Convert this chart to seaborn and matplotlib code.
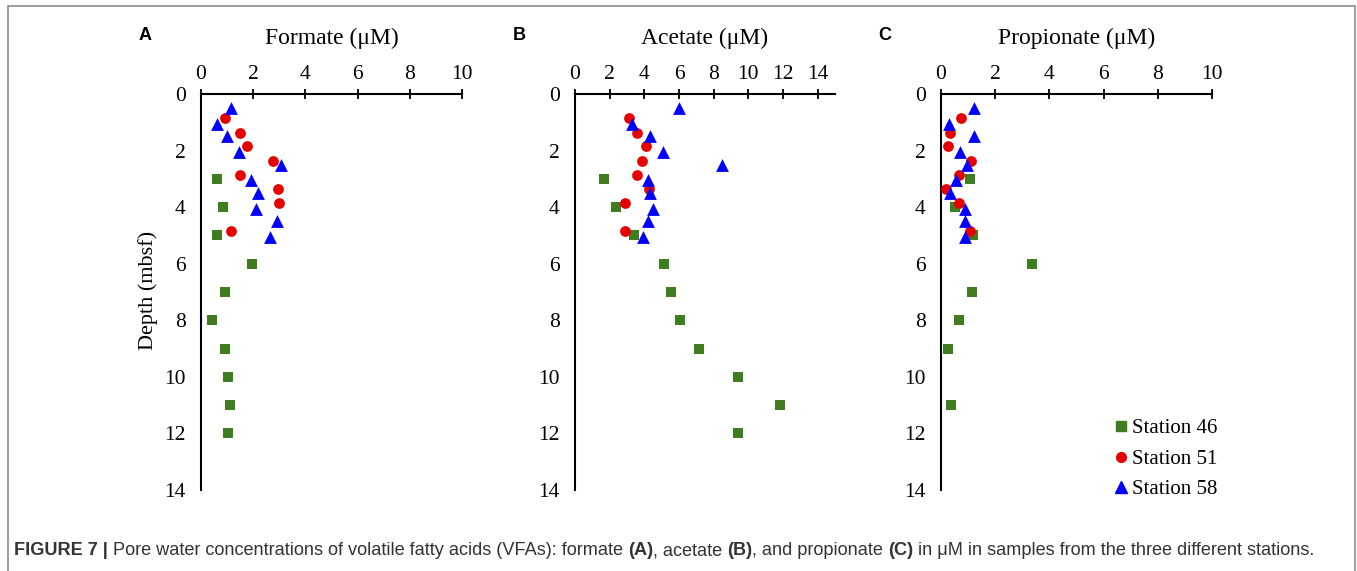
import numpy as np
import pandas as pd
import matplotlib
matplotlib.use("Agg")
import matplotlib.pyplot as plt
from matplotlib.patches import Rectangle
from matplotlib.lines import Line2D
import matplotlib.transforms as mtransforms
import seaborn as sns

# Depths (mbsf) per station
depth_46 = [3, 4, 5, 6, 7, 8, 9, 10, 11, 12]
depth_46_prop = [3, 4, 5, 6, 7, 8, 9, 11]
depth_51 = [0.85, 1.38, 1.85, 2.38, 2.85, 3.37, 3.85, 4.85]
depth_58 = [0.5, 1.05, 1.5, 2.05, 2.5, 3.05, 3.5, 4.05, 4.5, 5.05]

# Concentrations (uM)
formate_46 = [0.6, 0.85, 0.6, 1.94, 0.93, 0.42, 0.93, 1.02, 1.1, 1.02]
formate_51 = [0.93, 1.5, 1.75, 2.75, 1.5, 2.95, 3.0, 1.15]
formate_58 = [1.15, 0.6, 1.0, 1.47, 3.05, 1.9, 2.2, 2.1, 2.9, 2.65]

acetate_46 = [1.65, 2.35, 3.4, 5.14, 5.53, 6.03, 7.17, 9.42, 11.81, 9.42]
acetate_51 = [3.1, 3.6, 4.1, 3.85, 3.6, 4.25, 2.9, 2.9]
acetate_58 = [6.0, 3.3, 4.35, 5.1, 8.5, 4.2, 4.35, 4.5, 4.2, 3.95]

propionate_46 = [1.07, 0.52, 1.17, 3.34, 1.16, 0.68, 0.27, 0.36]
propionate_51 = [0.75, 0.35, 0.27, 1.1, 0.68, 0.18, 0.68, 1.07]
propionate_58 = [1.2, 0.3, 1.2, 0.7, 0.95, 0.55, 0.35, 0.9, 0.9, 0.9]

stations = ["Station 46", "Station 51", "Station 58"]
colors = {"Station 46": "#3f7d20", "Station 51": "#e60000", "Station 58": "#0000ff"}
markers = {"Station 46": "s", "Station 51": "o", "Station 58": "^"}
sizes = {"Station 46": 55, "Station 51": 60, "Station 58": 85}


def make_frame(d46, v46, d51, v51, d58, v58):
    parts = []
    for name, d, v in zip(stations, [d46, d51, d58], [v46, v51, v58]):
        parts.append(pd.DataFrame({"station": name, "depth": d, "conc": v}))
    return pd.concat(parts, ignore_index=True)


panels = [
    ("A", "Formate (\u03bcM)", make_frame(depth_46, formate_46, depth_51, formate_51, depth_58, formate_58),
     10, np.arange(0, 11, 2), 201, 261),
    ("B", "Acetate (\u03bcM)", make_frame(depth_46, acetate_46, depth_51, acetate_51, depth_58, acetate_58),
     15, np.arange(0, 15, 2), 575, 260),
    ("C", "Propionate (\u03bcM)", make_frame(depth_46_prop, propionate_46, depth_51, propionate_51, depth_58, propionate_58),
     10, np.arange(0, 11, 2), 941, 271),
]

sns.set_style("white")
plt.rcParams["font.family"] = ["Liberation Serif", "DejaVu Serif"]
plt.rcParams["text.color"] = "black"
plt.rcParams["xtick.color"] = "black"
plt.rcParams["ytick.color"] = "black"

W, H = 1357, 571
fig = plt.figure(figsize=(W / 100, H / 100), dpi=100)

top_px, bot_px = 94, 490
for letter, title, df, xmax, xticks, left_px, width_px in panels:
    ax = fig.add_axes([left_px / W, 1 - bot_px / H, width_px / W, (bot_px - top_px) / H])
    for st in stations:
        sub = df[df["station"] == st]
        sns.scatterplot(data=sub, x="conc", y="depth", color=colors[st], marker=markers[st],
                        s=sizes[st], linewidth=0, ax=ax, legend=False, zorder=3)
    ax.set_xlim(0, xmax)
    ax.set_ylim(14, 0)
    ax.set_xticks(xticks)
    ax.set_yticks(np.arange(0, 15, 2))
    ax.xaxis.tick_top()
    ax.set_xlabel("")
    ax.set_ylabel("")
    for s in ["right", "bottom"]:
        ax.spines[s].set_visible(False)
    for s in ["left", "top"]:
        ax.spines[s].set_linewidth(1.5)
        ax.spines[s].set_color("black")
    ax.tick_params(axis="x", direction="inout", length=7, width=1.3, labelsize=15.5, pad=4)
    ax.tick_params(axis="y", direction="out", length=6, width=1.3, labelsize=15.5, pad=5)
    ax.patch.set_alpha(0)
    cx = (left_px + width_px / 2) / W
    fig.text(cx, 1 - 38 / H, title, ha="center", va="center", fontsize=17)
    fig.text((left_px - 56) / W, 1 - 36 / H, letter, ha="center", va="center", fontsize=13,
             fontweight="bold", family=["Liberation Sans", "DejaVu Sans"])
    if letter == "C":
        handles = [Line2D([], [], linestyle="none", marker=markers[st], color=colors[st],
                          markersize={"Station 46": 6.5, "Station 51": 7, "Station 58": 8.5}[st])
                   for st in stations]
        ax.legend(handles, stations, loc="center left", bbox_to_anchor=(1104 / W, 1 - 459 / H),
                  bbox_transform=fig.transFigure, frameon=False, fontsize=15,
                  handlelength=0.6, handletextpad=0.25, labelspacing=0.52, borderpad=0)

fig.text(148 / W, 1 - 290 / H, "Depth (mbsf)", rotation=90, ha="center", va="center", fontsize=16)

# border around figure
fig.patches.append(Rectangle((8 / W, -0.05), (1355 - 8) / W, 1.05 - 6 / H, transform=fig.transFigure,
                             fill=False, edgecolor="#8c8c8c", linewidth=1.2))

# caption with mixed weights
pieces = [
    ("FIGURE 7 |", "bold"),
    (" Pore water concentrations of volatile fatty acids (VFAs): formate ", "normal"),
    ("(A)", "bold"),
    (", acetate ", "normal"),
    ("(B)", "bold"),
    (", and propionate ", "normal"),
    ("(C)", "bold"),
    (" in \u03bcM in samples from the three different stations.", "normal"),
]
sans = ["Liberation Sans", "DejaVu Sans"]
cap_texts = []
for txt, wt in pieces:
    t = fig.text(14 / W, 1 - 555 / H, txt, fontsize=13.1, fontweight=wt, family=sans,
                 color="#333333", ha="left", va="baseline")
    cap_texts.append(t)

fig.canvas.draw()
r = fig.canvas.get_renderer()
x_end = cap_texts[0].get_window_extent(r).x1
for t in cap_texts[1:]:
    t.set_transform(mtransforms.offset_copy(fig.transFigure, fig=fig,
                                             x=(x_end - 14) * 72 / 100, y=0, units="points"))
    fig.canvas.draw()
    x_end = t.get_window_extent(r).x1

fig.savefig("out.png", dpi=100)
